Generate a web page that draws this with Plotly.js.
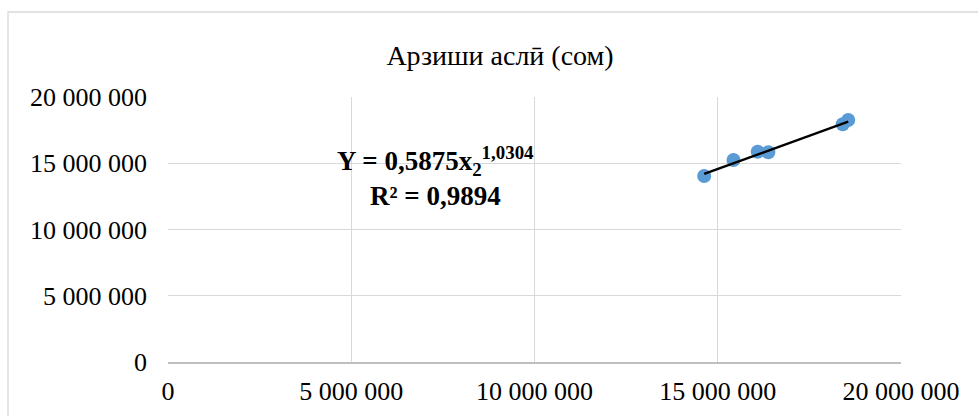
<!DOCTYPE html>
<html>
<head>
<meta charset="utf-8">
<script src="https://cdn.plot.ly/plotly-3.0.1.min.js"></script>
<style>html,body{margin:0;padding:0;background:#fff;}#chart{width:978px;height:416px;}</style>
</head>
<body>
<div id="chart"></div>
<script>
// Data
const xValues = [14630000, 15430000, 16090000, 16380000, 18410000, 18560000];
const yValues = [14040000, 15250000, 15870000, 15830000, 17940000, 18260000];
// Power trend coefficients (from the chart label)
const coefA = 0.5875;
const coefB = 1.0304;
const tickValues = [0, 5000000, 10000000, 15000000, 20000000];
const tickLabels = ['0', '5 000 000', '10 000 000', '15 000 000', '20 000 000'];
const chartTitle = 'Арзиши аслӣ (сом)';
const eqText = '<b>Y = 0,5875x<sub>2</sub><sup>1,0304</sup></b><br><b>R² = 0,9894</b>';

const xMin = Math.min(...xValues), xMax = Math.max(...xValues);
const trendX = [];
const nSteps = 20;
for (let i = 0; i <= nSteps; i++) trendX.push(xMin + (xMax - xMin) * i / nSteps);
const trendY = trendX.map(x => coefA * Math.pow(x, coefB));

const font = 'Liberation Serif';
const grid = '#d9d9d9';

const traces = [
  {x: xValues, y: yValues, mode: 'markers', type: 'scatter',
   marker: {color: '#5b9bd5', size: 14}, hoverinfo: 'x+y'},
  {x: trendX, y: trendY, mode: 'lines', type: 'scatter',
   line: {color: '#000000', width: 2.5}, hoverinfo: 'skip'}
];

const layout = {
  width: 978, height: 416,
  margin: {l: 168, r: 77, t: 97, b: 54},
  paper_bgcolor: '#fff', plot_bgcolor: '#fff',
  showlegend: false,
  font: {family: font, color: '#000', size: 26},
  title: {text: chartTitle, x: (500 - 168) / 733, xref: 'paper', xanchor: 'center',
          y: 1 - 55/416, yanchor: 'middle',
          font: {family: font, size: 28, color: '#000'}},
  xaxis: {range: [0, 20000000], tickvals: tickValues, ticktext: tickLabels,
          showgrid: true, gridcolor: grid, gridwidth: 1.3, zeroline: false,
          showline: true, linecolor: '#bfbfbf', linewidth: 1.5, ticks: '',
          ticklabelstandoff: 5,
          tickfont: {family: font, size: 26, color: '#000'}, fixedrange: true},
  yaxis: {range: [0, 20000000], tickvals: tickValues, ticktext: tickLabels,
          showgrid: true, gridcolor: grid, gridwidth: 1.3, zeroline: false,
          showline: false, ticks: '', ticklabelstandoff: 20,
          tickfont: {family: font, size: 26, color: '#000'}, fixedrange: true},
  annotations: [{text: eqText, xref: 'x', yref: 'y', x: 7300000, y: 14000000,
                 showarrow: false, align: 'center',
                 font: {family: font, size: 27, color: '#000'}}],
  shapes: [{type: 'rect', xref: 'paper', yref: 'paper',
            x0: (8 - 168) / 733, x1: 1.3, y0: -0.4, y1: (362 - 12) / 265,
            line: {color: '#d9d9d9', width: 1.3}, fillcolor: 'rgba(0,0,0,0)', layer: 'below'}]
};

Plotly.newPlot('chart', traces, layout, {displayModeBar: false, staticPlot: true});
</script>
</body>
</html>
